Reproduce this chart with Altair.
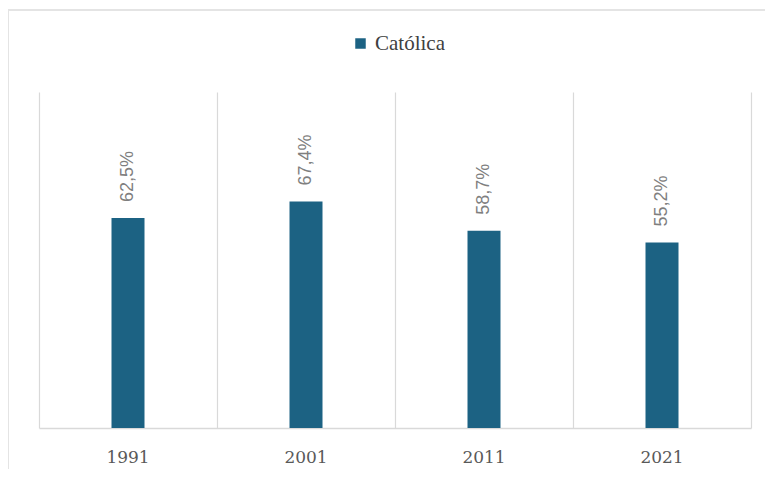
import altair as alt
import pandas as pd

years = ["1991", "2001", "2011", "2021"]
values = [62.5, 67.4, 58.7, 55.2]
series = "Católica"

df = pd.DataFrame({
    "ano": years,
    "valor": values,
    "serie": [series] * len(years),
})
df["rotulo"] = [f"{v:.1f}".replace(".", ",") + "%" for v in values]

BAR = "#1c6283"
GRID = "#d9d9d9"

base = alt.Chart(df)

x_enc = alt.X(
    "ano:N",
    sort=years,
    scale=alt.Scale(paddingInner=0, paddingOuter=0),
    axis=alt.Axis(
        title=None, labelAngle=0, ticks=False, grid=True, bandPosition=0,
        gridColor=GRID, gridWidth=1.2, domainColor=GRID, domainWidth=1.6,
        labelFont="DejaVu Serif", labelFontSize=17, labelColor="#595959",
        labelPadding=21,
    ),
)
y_enc = alt.Y(
    "valor:Q",
    scale=alt.Scale(domain=[0, 100], nice=False),
    axis=alt.Axis(
        title=None, orient="right", labels=False, ticks=False, grid=False,
        domainColor=GRID, domainWidth=1.2,
    ),
)

bars = base.mark_bar(size=33).encode(
    x=x_enc,
    y=y_enc,
    color=alt.Color(
        "serie:N",
        scale=alt.Scale(domain=[series], range=[BAR]),
        legend=alt.Legend(
            title=None, orient="none", legendX=311, legendY=-59,
            symbolType="square", symbolSize=110, symbolStrokeWidth=0,
            labelFont="Liberation Serif", labelFontSize=21, labelColor="#404040",
            symbolOffset=0, labelOffset=4,
        ),
    ),
)

labels = base.mark_text(
    angle=270, align="left", baseline="middle", dx=16,
    font="Liberation Sans", fontSize=18, color="#7f7f7f",
).encode(
    x=alt.X("ano:N", sort=years),
    y=alt.Y("valor:Q"),
    text="rotulo:N",
)

frame = alt.Chart(pd.DataFrame({"k": [0]})).mark_rect(
    fill="transparent", stroke="#e4e4e4", strokeWidth=2
).encode(
    x=alt.value(-31), x2=alt.value(780),
    y=alt.value(-82), y2=alt.value(460),
)

chart = alt.layer(frame, bars, labels).properties(
    width=712, height=336,
    background="white",
    autosize=alt.AutoSizeParams(type="none"),
    padding={"left": 31, "top": 84, "right": 14, "bottom": 41},
).configure_view(strokeWidth=0, stroke="transparent")

chart.save("out.html", embed_options={"renderer": "svg", "actions": False})
